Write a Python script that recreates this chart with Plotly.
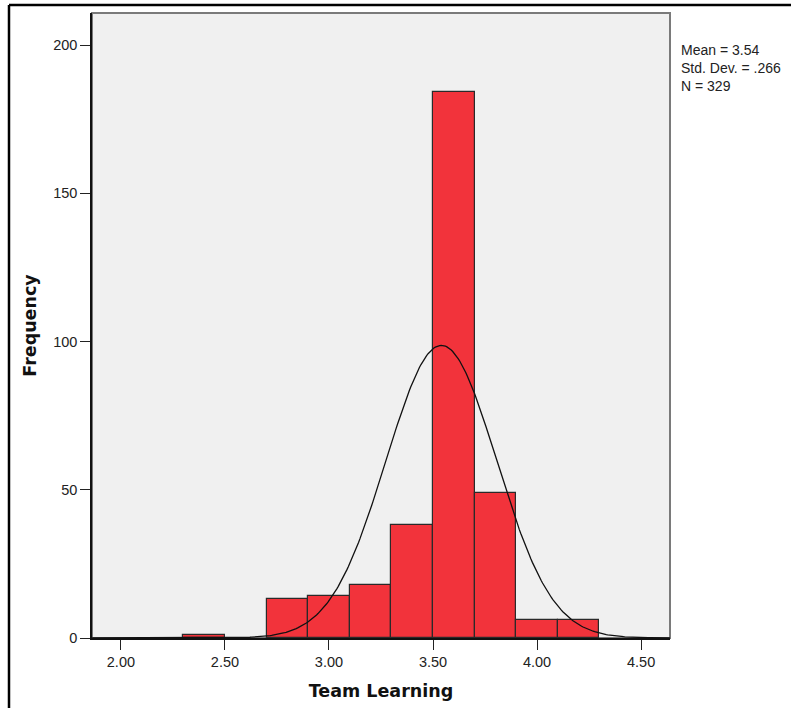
import numpy as np
import plotly.graph_objects as go

# Histogram bins (left edges) and frequencies
bin_left = [2.3, 2.7, 2.9, 3.1, 3.3, 3.5, 3.7, 3.9, 4.1]
freq = [1, 13, 14, 18, 38, 184, 49, 6, 6]
bin_width = 0.2

# Summary statistics shown on the chart
mean_val = 3.54
std_val = 0.266
n_val = 329

x_ticks = [2.0, 2.5, 3.0, 3.5, 4.0, 4.5]
x_tick_text = ["2.00", "2.50", "3.00", "3.50", "4.00", "4.50"]
y_ticks = [0, 50, 100, 150, 200]

centers = [b + bin_width / 2 for b in bin_left]

# Fitted normal curve (as drawn by SPSS from mean / sd / N)
xc = np.linspace(1.861, 4.639, 400)
yc = n_val * bin_width * np.exp(-0.5 * ((xc - mean_val) / std_val) ** 2) / (std_val * np.sqrt(2 * np.pi))

fig = go.Figure()
fig.add_trace(go.Bar(
    x=centers, y=freq, width=bin_width,
    marker=dict(color="#F2333B", line=dict(color="#2a2a2a", width=1.2)),
    hoverinfo="x+y",
))
fig.add_trace(go.Scatter(
    x=xc, y=yc, mode="lines",
    line=dict(color="#111111", width=1.3),
    hoverinfo="skip",
))

font_family = "Liberation Sans, Arial, sans-serif"
title_family = "DejaVu Sans, Verdana, sans-serif"

fig.update_layout(
    width=791, height=708,
    margin=dict(l=92, r=121, t=13, b=70, autoexpand=False),
    paper_bgcolor="white",
    plot_bgcolor="#F0F0F0",
    showlegend=False,
    bargap=0,
    font=dict(family=font_family, size=14, color="#222222"),
    xaxis=dict(
        range=[1.861, 4.639],
        tickvals=x_ticks, ticktext=x_tick_text,
        ticks="outside", ticklen=10, tickwidth=1.2, tickcolor="#222",
        showline=True, linecolor="#111", linewidth=1.5,
        showgrid=False, zeroline=False,
        tickfont=dict(size=14.5, family=font_family, color="#222"),
        title=dict(text="<b>Team Learning</b>", font=dict(size=17.5, family=title_family, color="#111"), standoff=16),
    ),
    yaxis=dict(
        range=[0, 210.8],
        tickvals=y_ticks,
        ticks="outside", ticklen=10, tickwidth=1.2, tickcolor="#222",
        showline=True, linecolor="#111", linewidth=1.5,
        showgrid=False, zeroline=False,
        tickfont=dict(size=14.5, family=font_family, color="#222"),
        title=dict(text="<b>Frequency</b>", font=dict(size=17.5, family=title_family, color="#111"), standoff=12),
    ),
    shapes=[
        # plot area border (top/right gray)
        dict(type="rect", xref="paper", yref="paper", x0=0, y0=0, x1=1, y1=1,
             line=dict(color="#7a7a7a", width=2), layer="below"),
        # outer frame
        dict(type="line", xref="paper", yref="paper", x0=-0.1436, x1=-0.1436, y0=1.0128, y1=-0.2,
             line=dict(color="#000", width=2.5)),
        dict(type="line", xref="paper", yref="paper", x0=-0.1436, x1=1.25, y0=1.0128, y1=1.0128,
             line=dict(color="#000", width=2.5)),
    ],
    annotations=[
        dict(xref="paper", yref="paper", x=1.0155, y=0.957, xanchor="left", yanchor="top",
             align="left", showarrow=False,
             text="Mean = 3.54<br>Std. Dev. = .266<br>N = 329",
             font=dict(size=14, family=font_family, color="#222")),
    ],
)

fig.write_html("out.html", config={"displayModeBar": False},
               post_script="document.body.style.margin='0';")
